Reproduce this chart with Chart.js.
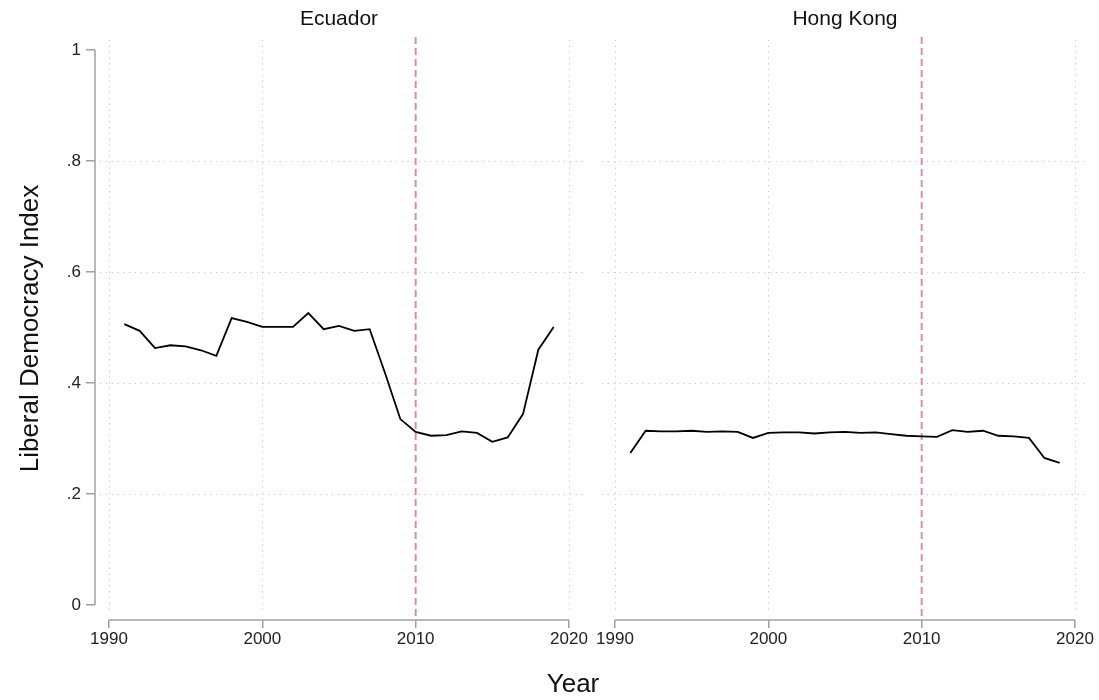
<!DOCTYPE html>
<html>
<head>
<meta charset="utf-8">
<script src="https://cdn.jsdelivr.net/npm/chart.js@4.4.1/dist/chart.umd.min.js"></script>
<style>
  body { margin: 0; background: #fff; }
  #wrap { position: relative; width: 1099px; height: 700px; font-family: "Liberation Sans", Arial, sans-serif; }
  canvas { position: absolute; top: 0; }
  #xtitle { position: absolute; top: 668px; left: 0; width: 1146px; text-align: center; font-size: 26px; line-height: 30px; color: #111; }
</style>
</head>
<body>
<div id="wrap">
  <canvas id="ecuador" width="590" height="700" style="left:0"></canvas>
  <canvas id="hongkong" width="509" height="700" style="left:590px"></canvas>
  <div id="xtitle">Year</div>
</div>
<script>
  // data
  var years = [1991,1992,1993,1994,1995,1996,1997,1998,1999,2000,2001,2002,2003,2004,2005,
               2006,2007,2008,2009,2010,2011,2012,2013,2014,2015,2016,2017,2018,2019];
  var ecuador = [0.506,0.494,0.463,0.468,0.466,0.459,0.449,0.517,0.510,0.501,0.501,0.501,0.526,0.497,0.503,
                 0.494,0.497,0.418,0.335,0.312,0.305,0.306,0.313,0.310,0.294,0.302,0.344,0.460,0.501];
  var hongkong = [0.274,0.314,0.313,0.313,0.314,0.312,0.313,0.312,0.301,0.310,0.311,0.311,0.309,0.311,0.312,
                  0.310,0.311,0.308,0.305,0.304,0.303,0.315,0.312,0.314,0.305,0.304,0.301,0.265,0.256];
  var xTicks = [1990, 2000, 2010, 2020];
  var yTicks = [0, 0.2, 0.4, 0.6, 0.8, 1];
  var yGrid = [0.2, 0.4, 0.6, 0.8];
  var refYear = 2010;

  var axisGrey = '#a0a0a0';
  var font = "'Liberation Sans', Arial, sans-serif";

  function seg(ctx, x1, y1, x2, y2) {
    ctx.beginPath(); ctx.moveTo(x1, y1); ctx.lineTo(x2, y2); ctx.stroke();
  }

  // grid, reference line and stata-like axes
  var frame = {
    id: 'frame',
    beforeDatasetsDraw: function(chart, args, opts) {
      var ctx = chart.ctx, a = chart.chartArea, x = chart.scales.x, y = chart.scales.y;
      ctx.save();
      ctx.strokeStyle = '#c6c6c6';
      ctx.lineWidth = 1;
      ctx.setLineDash([1.2, 4.6]);
      yGrid.forEach(function(v) {
        var p = Math.round(y.getPixelForValue(v)) + 0.5;
        seg(ctx, a.left + (opts.yAxis ? 5 : 1), p, a.right, p);
      });
      xTicks.forEach(function(v) {
        if (v === refYear) return;
        var p = Math.round(x.getPixelForValue(v)) + 0.5;
        seg(ctx, p, a.top + 3, p, a.bottom - 7);
      });
      ctx.setLineDash([7, 4]);
      ctx.strokeStyle = '#d985b6';
      ctx.lineWidth = 1.9;
      var r = x.getPixelForValue(refYear);
      seg(ctx, r, a.top, r, a.bottom);
      ctx.setLineDash([]);
      ctx.strokeStyle = axisGrey;
      ctx.lineWidth = 1.5;
      seg(ctx, x.getPixelForValue(xTicks[0]), a.bottom, x.getPixelForValue(xTicks[3]), a.bottom);
      if (opts.yAxis) seg(ctx, a.left, y.getPixelForValue(0), a.left, y.getPixelForValue(1));
      ctx.restore();
    }
  };

  function makePanel(id, name, values, showY, padLeft, padRight) {
    return new Chart(document.getElementById(id), {
      type: 'line',
      data: {
        datasets: [{
          data: years.map(function(yr, i) { return { x: yr, y: values[i] }; }),
          borderColor: '#000',
          borderWidth: 1.8,
          pointRadius: 0,
          tension: 0
        }]
      },
      options: {
        responsive: false,
        animation: false,
        layout: { padding: { left: padLeft, right: padRight, top: 0, bottom: 0 } },
        plugins: {
          legend: { display: false },
          tooltip: { enabled: false },
          frame: { yAxis: showY },
          title: {
            display: true,
            text: name,
            fullSize: false,
            color: '#111',
            font: { family: font, size: 21, weight: 'normal' },
            padding: { top: 7, bottom: 4.8 }
          }
        },
        scales: {
          x: {
            type: 'linear',
            min: 1989.087,
            max: 2020.913,
            afterBuildTicks: function(s) { s.ticks = xTicks.map(function(v) { return { value: v }; }); },
            afterFit: function(s) { s.height = 80; },
            ticks: {
              color: '#222', font: { family: font, size: 17 }, padding: 1, maxRotation: 0,
              callback: function(v) { return String(v); }
            },
            grid: { display: true, drawOnChartArea: false, drawTicks: true, tickLength: 8, color: axisGrey, lineWidth: 1.5 },
            border: { display: false }
          },
          y: {
            display: showY,
            min: -0.027,
            max: 1.0234,
            afterBuildTicks: function(s) { s.ticks = yTicks.map(function(v) { return { value: v }; }); },
            afterFit: function(s) { s.width = showY ? 95 : 0; },
            ticks: {
              color: '#222', font: { family: font, size: 17 }, padding: 5,
              callback: function(v) {
                if (v === 0) return '0';
                if (v === 1) return '1';
                return String(Math.round(v * 10) / 10).replace(/^0/, '');
              }
            },
            grid: { display: true, drawOnChartArea: false, drawTicks: true, tickLength: 9, color: axisGrey, lineWidth: 1.5 },
            border: { display: false },
            title: {
              display: true,
              text: 'Liberal Democracy Index',
              color: '#111',
              font: { family: font, size: 26 },
              padding: { top: 15, bottom: 0 }
            }
          }
        }
      },
      plugins: [frame]
    });
  }

  makePanel('ecuador', 'Ecuador', ecuador, true, 0, 7);
  makePanel('hongkong', 'Hong Kong', hongkong, false, 11, 10);
</script>
</body>
</html>
